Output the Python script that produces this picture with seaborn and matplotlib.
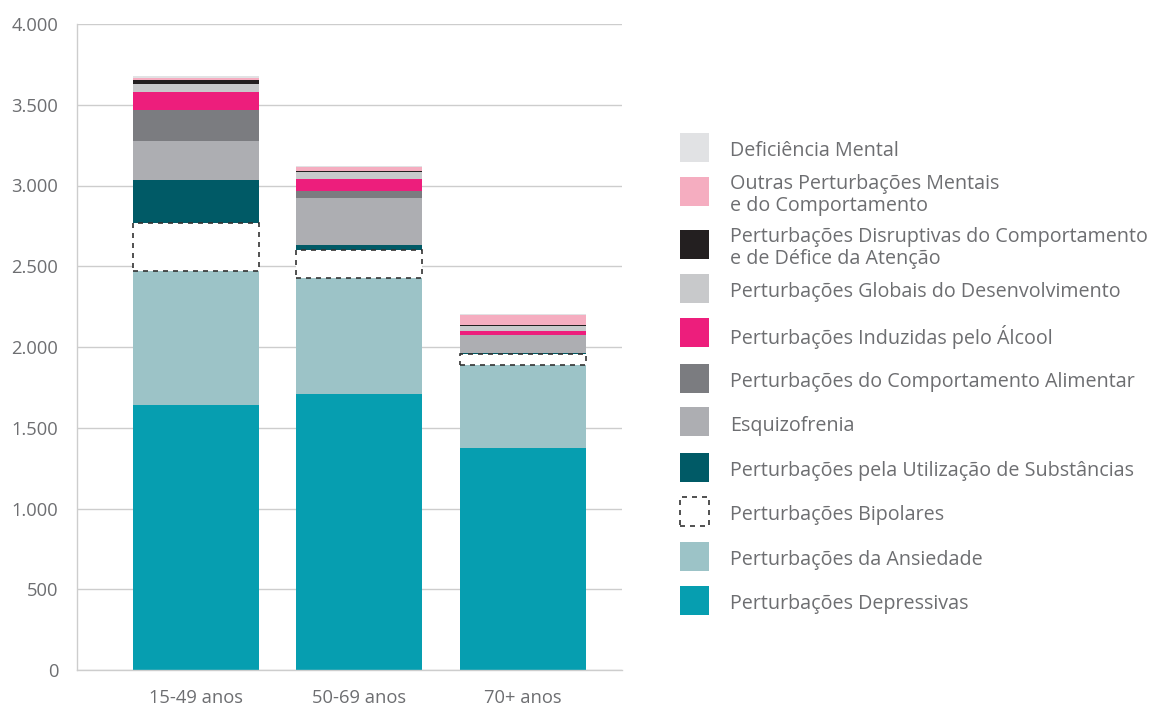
import matplotlib.pyplot as plt
import seaborn as sns
import pandas as pd
import numpy as np
from matplotlib.patches import Rectangle
from matplotlib.ticker import FuncFormatter

# Dados
grupos = ['15-49 anos', '50-69 anos', '70+ anos']

# ordem de empilhamento: de baixo para cima
categorias = [
    'Perturbações Depressivas',
    'Perturbações da Ansiedade',
    'Perturbações Bipolares',
    'Perturbações pela Utilização de Substâncias',
    'Esquizofrenia',
    'Perturbações do Comportamento Alimentar',
    'Perturbações Induzidas pelo Álcool',
    'Perturbações Globais do Desenvolvimento',
    'Perturbações Disruptivas do Comportamento\ne de Défice da Atenção',
    'Outras Perturbações Mentais\ne do Comportamento',
    'Deficiência Mental',
]

depressivas = [1641, 1709, 1375]
ansiedade = [830, 716, 514]
bipolares = [294, 176, 68]
substancias = [269, 31, 3]
esquizofrenia = [242, 293, 113]
alimentar = [191, 41, 3]
alcool = [112, 74, 26]
globais = [49, 44, 30]
disruptivas = [25, 3, 3]
outras = [14, 26, 66]
deficiencia = [11, 6, 2]

valores = [depressivas, ansiedade, bipolares, substancias, esquizofrenia,
           alimentar, alcool, globais, disruptivas, outras, deficiencia]

cores = ['#069eb0', '#9cc3c7', '#ffffff', '#005a66', '#adaeb2', '#7b7c80',
         '#ed1e7c', '#c8c9cb', '#231f20', '#f5adc0', '#e1e2e4']

cor_texto = '#6d6e71'
cor_grelha = '#cdcdcd'

sns.set_theme(style='white')
plt.rcParams['font.family'] = ['Open Sans', 'DejaVu Sans']

fig = plt.figure(figsize=(11.58, 7.07), dpi=100)
ax = fig.add_axes([77 / 1158, 37 / 707, 545 / 1158, 646 / 707])

base = np.zeros(len(grupos))
for cat, vals, cor in zip(categorias, valores, cores):
    df = pd.DataFrame({'Grupo': grupos, 'Valor': vals})
    if cor == '#ffffff':
        sns.barplot(data=df, x='Grupo', y='Valor', bottom=base, color=cor,
                    width=0.77, ax=ax, edgecolor='#333333', linestyle=(0, (3, 3)),
                    linewidth=1.2, saturation=1, zorder=3)
    else:
        sns.barplot(data=df, x='Grupo', y='Valor', bottom=base, color=cor,
                    width=0.77, ax=ax, linewidth=0, saturation=1, zorder=2)
    base = base + np.array(vals)

ax.set_xlim(-0.726, 2.604)
ax.set_ylim(0, 4000)
ax.set_yticks(range(0, 4001, 500))
ax.yaxis.set_major_formatter(FuncFormatter(lambda v, p: f'{int(v):,}'.replace(',', '.')))
ax.grid(axis='y', color=cor_grelha, linewidth=1)
ax.set_axisbelow(True)
ax.set_xlabel('')
ax.set_ylabel('')
ax.tick_params(axis='both', length=0, labelsize=13.2, labelcolor=cor_texto)
ax.tick_params(axis='y', pad=13.5)
ax.tick_params(axis='x', pad=13.5)
for lado in ['top', 'right']:
    ax.spines[lado].set_visible(False)
for lado in ['left', 'bottom']:
    ax.spines[lado].set_color(cor_grelha)
    ax.spines[lado].set_linewidth(1)

# Legenda (de cima para baixo)
centros = [147, 191, 244, 288, 333, 378, 422, 467, 511, 556, 600]
W, H = 1158, 707
for cat, cor, yc in zip(categorias[::-1], cores[::-1], centros):
    if cor == '#ffffff':
        ret = Rectangle((680 / W, 1 - (yc + 14.5) / H), 29 / W, 29 / H,
                        transform=fig.transFigure, facecolor='white',
                        edgecolor='#333333', linestyle=(0, (3, 3)), linewidth=1.2)
    else:
        ret = Rectangle((680 / W, 1 - (yc + 14.5) / H), 29 / W, 29 / H,
                        transform=fig.transFigure, facecolor=cor, linewidth=0)
    fig.add_artist(ret)
    fig.text(730 / W, 1 - (yc + 4) / H, cat, fontsize=14.2, color=cor_texto,
             va='center', ha='left', linespacing=1.08)

plt.savefig('out.png', dpi=100)
